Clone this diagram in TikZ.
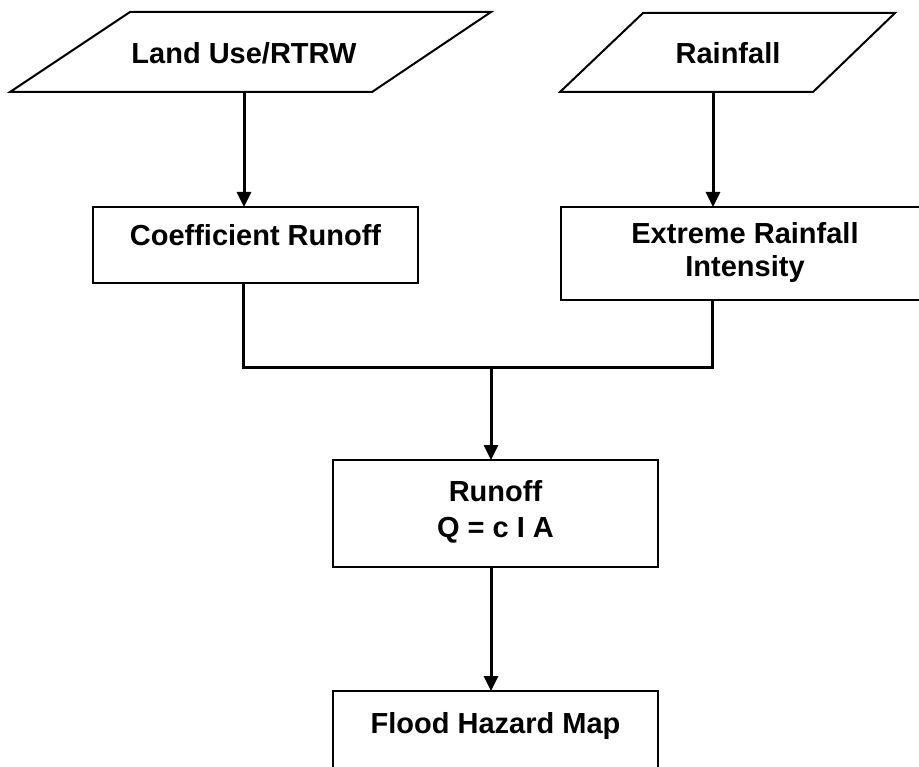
\documentclass[tikz,border=0pt]{standalone}
\usepackage{fontspec}
\setmainfont{Liberation Sans}
\usetikzlibrary{arrows.meta}
\tikzset{
  lbl/.style={font=\bfseries\fontsize{29}{33}\selectfont, inner sep=0pt, outer sep=0pt},
  procbox/.style={lbl, draw, line width=2pt, rectangle, fill=white},
  datanode/.style={lbl, minimum height=80pt},
  para/.style={draw, line width=2pt, line join=miter, fill=white},
  conn/.style={line width=3pt, line join=miter},
  arr/.style={conn, -{Triangle[length=15pt,width=14pt]}},
}
\begin{document}
\begin{tikzpicture}[x=1pt,y=-1pt]
\clip (0,0) rectangle (919,767);
\fill[white] (0,0) rectangle (919,767);
% input parallelograms
\draw[para] (130,12) -- (491,12) -- (372,92) -- (10,92) -- cycle;
\draw[para] (643,13) -- (895,13) -- (813,92) -- (560,92) -- cycle;
\node[datanode] (land) at (244,52) {\raisebox{-12pt}[0pt][0pt]{Land Use/RTRW}};
\node[datanode] (rain) at (728,52) {\raisebox{-12pt}[0pt][0pt]{Rainfall}};
% process boxes
\node[procbox, minimum width=325pt, minimum height=76pt] (coef) at (255.5,245)
  {\raisebox{-1pt}[0pt][0pt]{Coefficient Runoff}};
\node[procbox, minimum width=420pt, minimum height=93pt] (ext) at (771,253.5)
  {\hspace*{-52pt}\raisebox{9.5pt}[0pt][0pt]{\begin{tabular}[t]{@{}c@{}}Extreme Rainfall\\Intensity\end{tabular}}};
\node[procbox, minimum width=325pt, minimum height=107pt] (run) at (495.5,513.5)
  {\raisebox{12.5pt}[0pt][0pt]{\begin{tabular}[t]{@{}c@{}}Runoff\\[4pt]Q = c I A\end{tabular}}};
\node[procbox, minimum width=325pt, minimum height=100pt] (flood) at (495.5,741)
  {\raisebox{8pt}[0pt][0pt]{Flood Hazard Map}};
% connectors
\coordinate (j) at (491,368);
\draw[arr] (land.south) -- (land.south |- coef.north);
\draw[arr] ([xshift=-15pt]rain.south) -- ([xshift=-15pt]rain.south |- ext.north);
\draw[conn] ([xshift=-12.5pt]coef.south) |- ([xshift=-59pt]ext.south |- j) -- ([xshift=-59pt]ext.south);
\draw[arr] (j) -- (j |- run.north);
\draw[arr] (j |- run.south) -- (j |- flood.north);
\end{tikzpicture}
\end{document}
